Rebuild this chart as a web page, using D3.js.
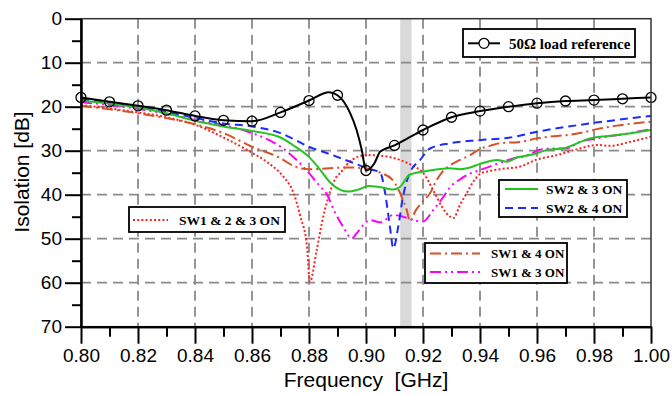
<!DOCTYPE html>
<html>
<head>
<meta charset="utf-8">
<script src="https://cdn.jsdelivr.net/npm/d3@7"></script>
<style>
  body { margin: 0; background: #fff; }
  svg { display: block; }
  .tick text { font-family: "Liberation Sans", Arial, sans-serif; fill: #000; }
  .leg text { font-family: "Liberation Serif", "Times New Roman", serif; font-weight: bold; fill: #000; }
</style>
</head>
<body>
<div id="vis"></div>
<script>
// tick values
var xTicks = [0.80, 0.82, 0.84, 0.86, 0.88, 0.90, 0.92, 0.94, 0.96, 0.98, 1.00]
var xMinor = [0.81, 0.83, 0.85, 0.87, 0.89, 0.91, 0.93, 0.95, 0.97, 0.99]
var yTicks = [0, 10, 20, 30, 40, 50, 60, 70]
var yMinor = [5, 15, 25, 35, 45, 55, 65]
var band = [0.912, 0.916]

// [frequency GHz, isolation dB]
var ref = [[0.80,17.9],[0.81,18.9],[0.82,19.8],[0.83,20.8],[0.84,22.1],[0.85,23.1],[0.86,23.3],
  [0.87,21.3],[0.88,18.6],[0.887,16.7],[0.89,17.4],[0.8944,21.4],[0.8967,25.3],[0.8985,29.8],
  [0.90,34.5],[0.9029,32.9],[0.905,30.2],[0.91,28.8],[0.92,25.3],[0.93,22.4],[0.94,21.0],
  [0.95,20.0],[0.96,19.2],[0.97,18.7],[0.98,18.5],[0.99,18.2],[1.00,17.9]]

var sw23 = [[0.80,18.6],[0.81,19.3],[0.82,20.2],[0.83,21.5],[0.84,23.2],[0.85,24.5],[0.86,25.5],
  [0.87,27.0],[0.875,29.0],[0.88,31.4],[0.884,34.4],[0.8875,37.3],[0.891,38.9],[0.894,39.3],
  [0.897,38.9],[0.901,38.0],[0.905,38.3],[0.9095,38.8],[0.912,38.2],[0.9154,35.4],[0.9225,34.5],
  [0.9295,34.0],[0.933,34.2],[0.9365,33.8],[0.94,33.0],[0.946,32.1],[0.9495,32.5],[0.953,31.5],
  [0.9575,31.0],[0.9646,29.7],[0.969,29.5],[0.9786,27.2],[0.989,26.4],[1.00,25.3]]

var sw24 = [[0.80,18.3],[0.81,19.0],[0.82,20.0],[0.83,21.2],[0.84,22.5],[0.85,23.8],[0.86,24.5],
  [0.87,26.0],[0.875,27.5],[0.88,29.1],[0.8874,30.8],[0.8944,32.5],[0.9014,34.2],[0.905,35.0],
  [0.9067,39.6],[0.9084,47.3],[0.9096,52.2],[0.9113,47.3],[0.913,40.4],[0.9154,35.0],[0.919,32.1],
  [0.9225,29.5],[0.9295,28.3],[0.94,27.6],[0.9505,27.0],[0.96,25.7],[0.9786,23.8],[1.00,22.1]]

var sw14 = [[0.80,19.8],[0.81,20.6],[0.82,21.5],[0.83,22.6],[0.84,24.0],[0.85,26.0],[0.86,29.1],
  [0.87,31.7],[0.875,33.6],[0.88,34.2],[0.8874,34.0],[0.8926,33.8],[0.8996,34.0],[0.905,35.0],
  [0.9091,36.5],[0.913,41.2],[0.9143,43.5],[0.9154,46.0],[0.9175,43.5],[0.9193,42.0],[0.9228,39.3],
  [0.9245,37.0],[0.9268,34.8],[0.9295,33.3],[0.933,32.1],[0.9365,31.0],[0.94,29.6],[0.9435,28.9],
  [0.947,28.3],[0.954,28.0],[0.96,27.2],[0.9751,26.0],[0.981,25.1],[0.988,24.3],[1.00,23.4]]

var sw13 = [[0.80,19.0],[0.81,19.6],[0.82,20.5],[0.83,21.6],[0.84,23.0],[0.85,24.2],[0.86,26.0],
  [0.87,29.1],[0.875,31.7],[0.88,35.1],[0.884,38.2],[0.8861,39.7],[0.889,43.9],[0.892,47.3],
  [0.895,49.9],[0.8967,48.8],[0.8985,47.3],[0.9014,45.8],[0.905,46.3],[0.9096,44.6],[0.913,45.0],
  [0.9166,45.8],[0.92,46.1],[0.9236,43.5],[0.9266,41.0],[0.9295,38.3],[0.933,36.5],[0.9365,35.2],
  [0.94,34.4],[0.946,33.0],[0.9505,32.0],[0.957,31.0],[0.961,29.8],[0.9646,29.5],[0.9705,29.5],
  [0.975,28.0],[0.981,27.2],[0.9926,26.0],[1.00,25.1]]

var sw123 = [[0.80,19.6],[0.81,20.4],[0.82,21.3],[0.83,22.4],[0.84,24.1],[0.85,27.0],[0.8593,30.2],
  [0.8651,32.5],[0.871,35.9],[0.8745,39.5],[0.877,45.0],[0.8793,51.8],[0.8803,59.8],[0.8827,52.6],
  [0.8845,46.5],[0.8868,40.5],[0.8897,35.9],[0.8909,35.1],[0.895,32.1],[0.9002,31.0],[0.9061,31.2],
  [0.9119,32.1],[0.9166,33.5],[0.92,35.0],[0.9236,39.0],[0.9266,42.7],[0.9295,45.0],[0.9307,45.3],
  [0.933,42.3],[0.9353,39.7],[0.9377,37.0],[0.94,35.3],[0.9435,34.6],[0.947,34.2],[0.954,33.6],
  [0.96,32.0],[0.967,31.0],[0.975,29.5],[0.981,28.7],[0.9856,28.9],[0.9926,28.0],[1.00,26.8]]

var width = 672, height = 396
var x = d3.scaleLinear().domain([0.8, 1.0]).range([81, 651])
var y = d3.scaleLinear().domain([0, 70]).range([18.7, 326.7])

var svg = d3.select("#vis").append("svg")
  .attr("width", width).attr("height", height)

// grey band
svg.append("rect")
  .attr("x", x(band[0])).attr("y", y(0))
  .attr("width", x(band[1]) - x(band[0])).attr("height", y(70) - y(0))
  .attr("fill", "#d9d9d9")

// grid
svg.append("g").selectAll("line")
  .data(xTicks.slice(1, -1)).enter().append("line")
  .attr("x1", d => x(d)).attr("x2", d => x(d))
  .attr("y1", y(0)).attr("y2", y(70))
  .attr("stroke", "#8a8a8a").attr("stroke-width", 1.8).attr("stroke-dasharray", "10,6")
svg.append("g").selectAll("line")
  .data(yTicks.slice(1, -1)).enter().append("line")
  .attr("y1", d => y(d)).attr("y2", d => y(d))
  .attr("x1", x(0.8)).attr("x2", x(1.0))
  .attr("stroke", "#8a8a8a").attr("stroke-width", 1.8).attr("stroke-dasharray", "10,6")

// curves
var line = d3.line().x(d => x(d[0])).y(d => y(d[1])).curve(d3.curveMonotoneX)

var series = [
  {data: sw123, color: "#ff2020", dash: "2,2.2"},
  {data: sw13, color: "#ff00ff", dash: "11,4,2,4,2,4"},
  {data: sw14, color: "#d8502a", dash: "11,4,2,4"},
  {data: sw24, color: "#1a2cff", dash: "8,5"},
  {data: sw23, color: "#22c322", dash: null},
  {data: ref, color: "#000", dash: null}
]
series.forEach(s => {
  svg.append("path")
    .attr("d", line(s.data))
    .attr("fill", "none")
    .attr("stroke", s.color)
    .attr("stroke-width", 2)
    .attr("stroke-dasharray", s.dash)
})

// reference markers every 0.01 GHz
svg.append("g").selectAll("circle")
  .data(ref.filter(d => Math.abs(d[0] * 100 - Math.round(d[0] * 100)) < 1e-6))
  .enter().append("circle")
  .attr("cx", d => x(d[0])).attr("cy", d => y(d[1]))
  .attr("r", 5).attr("fill", "none").attr("stroke", "#000").attr("stroke-width", 1.3)

// frame
svg.append("rect")
  .attr("x", x(0.8)).attr("y", y(0))
  .attr("width", x(1.0) - x(0.8)).attr("height", y(70) - y(0))
  .attr("fill", "none").attr("stroke", "#333").attr("stroke-width", 1.5)

// axes
var yAxis = svg.append("g")
  .attr("transform", `translate(${x(0.8)},0)`)
  .call(d3.axisLeft(y).tickValues(yTicks).tickSize(16).tickPadding(3).tickSizeOuter(0).tickFormat(d3.format("d")))
yAxis.selectAll("text").style("font-size", "19px")
svg.append("g")
  .attr("transform", `translate(${x(0.8)},0)`)
  .call(d3.axisLeft(y).tickValues(yMinor).tickSize(9).tickSizeOuter(0).tickFormat(""))

var xAxis = svg.append("g")
  .attr("transform", `translate(0,${y(70)})`)
  .call(d3.axisBottom(x).tickValues(xTicks).tickSize(17).tickPadding(5).tickSizeOuter(0).tickFormat(d3.format(".2f")))
xAxis.selectAll("text").style("font-size", "19px")
svg.append("g")
  .attr("transform", `translate(0,${y(70)})`)
  .call(d3.axisBottom(x).tickValues(xMinor).tickSize(10).tickSizeOuter(0).tickFormat(""))

svg.selectAll(".tick line").attr("stroke", "#000").attr("stroke-width", 2)
svg.selectAll(".domain").attr("stroke", "#000").attr("stroke-width", 2)

// axis titles
svg.append("text")
  .attr("x", 366).attr("y", 387)
  .attr("text-anchor", "middle")
  .style("font-family", "Liberation Sans, Arial, sans-serif")
  .style("font-size", "21px")
  .attr("xml:space", "preserve")
  .text("Frequency  [GHz]")
svg.append("text")
  .attr("transform", "translate(29,172) rotate(-90)")
  .attr("text-anchor", "middle")
  .style("font-family", "Liberation Sans, Arial, sans-serif")
  .style("font-size", "21px")
  .text("Isolation [dB]")

// legends
var legends = [
  {box: [463, 29, 172, 28], items: [{label: "50Ω load reference", s: 5, y: 43.3, x1: 468, x2: 500, tx: 509, fs: 15, marker: true}]},
  {box: [499, 180, 128, 37], items: [
    {label: "SW2 & 3 ON", s: 4, y: 189, x1: 505, x2: 538, tx: 546, fs: 13.5},
    {label: "SW2 & 4 ON", s: 3, y: 208, x1: 505, x2: 538, tx: 546, fs: 13.5}]},
  {box: [425, 243, 142, 40], items: [
    {label: "SW1 & 4 ON", s: 2, y: 253.5, x1: 430, x2: 480, tx: 491, fs: 13},
    {label: "SW1 & 3 ON", s: 1, y: 272, x1: 430, x2: 480, tx: 491, fs: 13}]},
  {box: [129, 207, 156, 25], items: [
    {label: "SW1 & 2 & 3 ON", s: 0, y: 220, x1: 133, x2: 168, tx: 179, fs: 13.5}]}
]
legends.forEach(l => {
  var g = svg.append("g").attr("class", "leg")
  g.append("rect")
    .attr("x", l.box[0]).attr("y", l.box[1]).attr("width", l.box[2]).attr("height", l.box[3])
    .attr("fill", "#fff").attr("stroke", "#000").attr("stroke-width", 1.8)
  l.items.forEach(it => {
    var s = series[it.s]
    g.append("line")
      .attr("x1", it.x1).attr("x2", it.x2).attr("y1", it.y).attr("y2", it.y)
      .attr("stroke", s.color).attr("stroke-width", 2).attr("stroke-dasharray", s.dash)
    if (it.marker) {
      g.append("circle").attr("cx", (it.x1 + it.x2) / 2).attr("cy", it.y).attr("r", 5)
        .attr("fill", "#fff").attr("stroke", "#000").attr("stroke-width", 1.3)
    }
    g.append("text")
      .attr("x", it.tx).attr("y", it.y)
      .attr("dy", "0.35em")
      .style("font-size", it.fs + "px")
      .text(it.label)
  })
})
</script>
</body>
</html>
